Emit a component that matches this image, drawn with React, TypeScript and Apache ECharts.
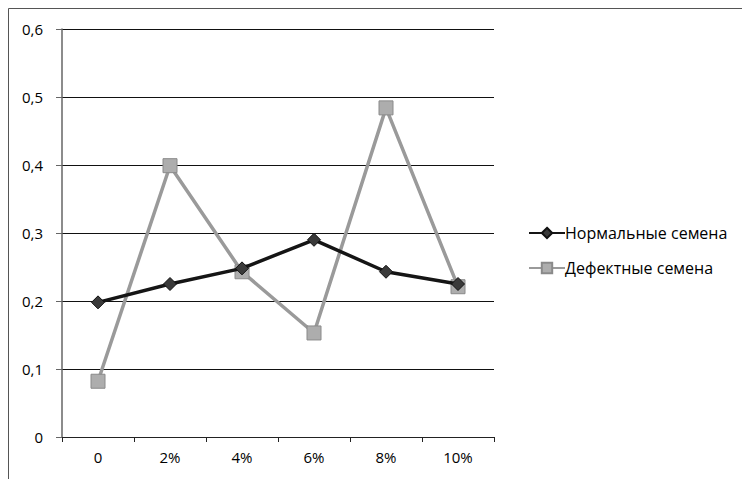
import React, { useEffect, useRef } from "react";
import * as echarts from "echarts";

const categories = ["0", "2%", "4%", "6%", "8%", "10%"];
const normalSeeds = [0.198, 0.225, 0.248, 0.29, 0.243, 0.225];
const defectiveSeeds = [0.082, 0.399, 0.243, 0.153, 0.484, 0.221];
const seriesNames = ["Нормальные семена", "Дефектные семена"];

const FONT = "'Open Sans', 'Noto Sans', sans-serif";

export default function App() {
  const ref = useRef<HTMLDivElement>(null);

  useEffect(() => {
    if (!ref.current) return;
    const chart = echarts.init(ref.current, undefined, { renderer: "svg" });
    chart.setOption({
      animation: false,
      backgroundColor: "#fff",
      textStyle: { fontFamily: FONT },
      grid: { left: 62, top: 29, right: 248, bottom: 42, containLabel: false },
      graphic: [
        { type: "line", shape: { x1: 8.5, y1: 8.5, x2: 8.5, y2: 479 }, style: { stroke: "#555", lineWidth: 1 } },
        { type: "line", shape: { x1: 8.5, y1: 8.5, x2: 742, y2: 8.5 }, style: { stroke: "#555", lineWidth: 1 } },
      ],
      legend: {
        orient: "vertical",
        left: 523,
        top: 220,
        itemWidth: 36,
        itemHeight: 13,
        itemGap: 19,
        textStyle: { fontFamily: FONT, fontSize: 16, color: "#000", padding: [0, 0, 0, -5] },
        data: seriesNames,
      },
      xAxis: {
        type: "category",
        data: categories,
        boundaryGap: true,
        axisLine: { lineStyle: { color: "#222", width: 1 } },
        axisTick: { show: true, length: 5, interval: 0, lineStyle: { color: "#222" } },
        axisLabel: { fontFamily: FONT, fontSize: 15, color: "#000", margin: 12 },
        splitLine: { show: false },
      },
      yAxis: {
        type: "value",
        min: 0,
        max: 0.6,
        interval: 0.1,
        axisLine: { show: true, lineStyle: { color: "#666", width: 1.5 } },
        axisTick: { show: true, length: 6, lineStyle: { color: "#666" } },
        axisLabel: {
          fontFamily: FONT,
          fontSize: 15,
          color: "#000",
          margin: 19,
          formatter: (v: number) => (v === 0 ? "0" : v.toFixed(1).replace(".", ",")),
        },
        splitLine: { show: true, lineStyle: { color: "#111", width: 1 } },
      },
      series: [
        {
          name: seriesNames[0],
          type: "line",
          data: normalSeeds,
          symbol: "diamond",
          symbolSize: 13,
          lineStyle: { color: "#151515", width: 3.5 },
          itemStyle: { color: "#3a3a3a", borderColor: "#111", borderWidth: 1 },
          z: 3,
        },
        {
          name: seriesNames[1],
          type: "line",
          data: defectiveSeeds,
          symbol: "rect",
          symbolSize: 14,
          lineStyle: { color: "#9a9a9a", width: 3.5 },
          itemStyle: { color: "#adadad", borderColor: "#8a8a8a", borderWidth: 1 },
          z: 2,
        },
      ],
    });
    return () => chart.dispose();
  }, []);

  return (
    <div
      ref={ref}
      style={{ position: "absolute", left: 0, top: 0, width: 742, height: 479 }}
    />
  );
}
